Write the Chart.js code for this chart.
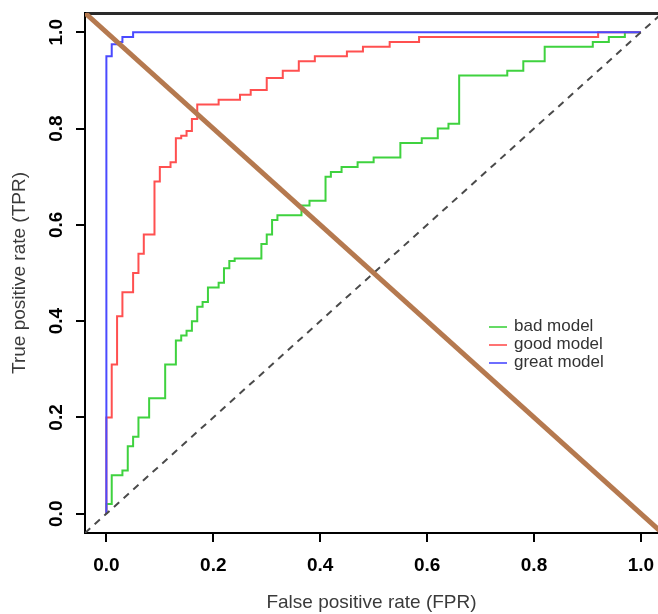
<!DOCTYPE html>
<html>
<head>
    <title>ROC curves</title>
    <script src="https://cdn.jsdelivr.net/npm/chart.js@4.4.1/dist/chart.umd.min.js"></script>
    <style>
        body { margin: 0; background: #fff; }
        .wrap { position: relative; width: 658px; height: 614px; }
        .legend {
            position: absolute;
            left: 489px;
            top: 317px;
            font-family: "Liberation Sans", Arial, sans-serif;
            font-size: 17px;
            color: #333;
        }
        .legend div { height: 18px; line-height: 18px; white-space: nowrap; }
        .legend span.sw {
            display: inline-block;
            width: 18px;
            height: 2px;
            vertical-align: middle;
            margin-right: 7px;
        }
    </style>
</head>
<body>
    <div class="wrap">
        <canvas id="roc" width="658" height="614"></canvas>
        <div class="legend" id="legend"></div>
    </div>

    <script>
        // ROC points (FPR, TPR)
        const badFpr  = [0, 0, 0.01, 0.03, 0.04, 0.05, 0.06, 0.08, 0.11, 0.13, 0.14, 0.15, 0.16, 0.17, 0.18, 0.19, 0.21, 0.22, 0.23, 0.24, 0.29, 0.30, 0.31, 0.32, 0.365, 0.38, 0.41, 0.42, 0.44, 0.47, 0.50, 0.55, 0.59, 0.62, 0.64, 0.66, 0.75, 0.78, 0.82, 0.91, 0.94, 0.97, 1.0];
        const badTpr  = [0, 0.02, 0.08, 0.09, 0.14, 0.16, 0.20, 0.24, 0.31, 0.36, 0.37, 0.38, 0.40, 0.43, 0.44, 0.47, 0.48, 0.51, 0.525, 0.53, 0.56, 0.58, 0.61, 0.62, 0.64, 0.65, 0.70, 0.71, 0.72, 0.73, 0.74, 0.77, 0.78, 0.80, 0.81, 0.91, 0.92, 0.94, 0.97, 0.98, 0.99, 1.0, 1.0];
        const goodFpr = [0, 0, 0.01, 0.02, 0.03, 0.05, 0.06, 0.07, 0.09, 0.10, 0.12, 0.13, 0.14, 0.15, 0.16, 0.17, 0.21, 0.25, 0.27, 0.30, 0.33, 0.36, 0.39, 0.45, 0.48, 0.53, 0.585, 0.92, 1.0];
        const goodTpr = [0, 0.20, 0.31, 0.41, 0.46, 0.50, 0.54, 0.58, 0.69, 0.72, 0.73, 0.78, 0.785, 0.795, 0.82, 0.85, 0.86, 0.87, 0.88, 0.905, 0.92, 0.94, 0.95, 0.96, 0.97, 0.98, 0.99, 1.0, 1.0];
        const greatFpr = [0, 0, 0.01, 0.02, 0.03, 0.05, 1.0];
        const greatTpr = [0, 0.95, 0.975, 0.98, 0.99, 1.0, 1.0];

        // reference lines: chance diagonal and the 1 - x line
        const diagX = [-0.04, 1.04];
        const diagY = [-0.04, 1.04];
        const antiX = [-0.04, 1.04];
        const antiY = [1.04, -0.04];

        const xTicks = [0, 0.2, 0.4, 0.6, 0.8, 1.0];
        const yTicks = [0, 0.2, 0.4, 0.6, 0.8, 1.0];
        const modelNames = ['bad model', 'good model', 'great model'];

        const xMin = -0.04, xMax = 1.032;
        const yMin = -0.04, yMax = 1.04;

        function pts(xs, ys) {
            return xs.map((x, i) => ({ x: x, y: ys[i] }));
        }

        const tickFont = { family: '"Liberation Sans", Arial, sans-serif', size: 19, weight: 'bold' };
        const titleFont = { family: '"Liberation Sans", Arial, sans-serif', size: 19 };

        const datasets = [
            { label: modelNames[0], data: pts(badFpr, badTpr), borderColor: '#3fd23f', order: 4 },
            { label: modelNames[1], data: pts(goodFpr, goodTpr), borderColor: '#ff5050', order: 3 },
            { label: modelNames[2], data: pts(greatFpr, greatTpr), borderColor: '#4a4aff', order: 2 }
        ].map(d => Object.assign(d, { showLine: true, stepped: 'before', borderWidth: 2, pointRadius: 0, fill: false }));

        datasets.push({
            label: 'chance', data: pts(diagX, diagY), showLine: true, borderColor: '#4a4a4a',
            borderWidth: 2, borderDash: [7, 6], pointRadius: 0, order: 1
        });
        datasets.push({
            label: 'anti', data: pts(antiX, antiY), showLine: true, borderColor: '#b5794f',
            borderWidth: 5, pointRadius: 0, order: 0
        });

        const ctx = document.getElementById('roc').getContext('2d');
        const chart = new Chart(ctx, {
            type: 'scatter',
            data: { datasets: datasets },
            options: {
                responsive: false,
                animation: false,
                layout: { padding: 0 },
                plugins: {
                    legend: { display: false },
                    tooltip: { enabled: false }
                },
                scales: {
                    x: {
                        type: 'linear',
                        position: 'bottom',
                        min: xMin, max: xMax,
                        afterBuildTicks: s => { s.ticks = xTicks.map(v => ({ value: v })); },
                        afterFit: s => { s.height = 81; s.paddingLeft = 0; s.paddingRight = 0; },
                        ticks: {
                            font: tickFont, color: '#000', padding: 12,
                            maxRotation: 0, autoSkip: false,
                            callback: v => v.toFixed(1)
                        },
                        grid: { drawOnChartArea: false, drawTicks: true, tickLength: 9, color: '#000', lineWidth: 2 },
                        border: { display: true, color: '#000', width: 2 },
                        title: {
                            display: true, text: 'False positive rate (FPR)',
                            font: titleFont, color: '#3a3a3a', padding: { top: 0, bottom: 0 }
                        }
                    },
                    xTop: {
                        type: 'linear',
                        position: 'top',
                        min: xMin, max: xMax,
                        afterFit: s => { s.height = 13; s.paddingLeft = 0; s.paddingRight = 0; },
                        ticks: { display: false },
                        grid: { display: false },
                        border: { display: true, color: '#2a2a2a', width: 3 }
                    },
                    y: {
                        type: 'linear',
                        position: 'left',
                        min: yMin, max: yMax,
                        afterBuildTicks: s => { s.ticks = yTicks.map(v => ({ value: v })); },
                        afterFit: s => { s.width = 85; s.paddingTop = 0; s.paddingBottom = 0; },
                        ticks: {
                            font: tickFont, color: '#000', padding: 6,
                            minRotation: 90, maxRotation: 90, crossAlign: 'center',
                            autoSkip: false,
                            callback: v => v.toFixed(1)
                        },
                        grid: { drawOnChartArea: false, drawTicks: true, tickLength: 9, color: '#000', lineWidth: 2 },
                        border: { display: true, color: '#000', width: 2 },
                        title: {
                            display: true, text: 'True positive rate (TPR)',
                            font: titleFont, color: '#3a3a3a', padding: { top: 8, bottom: 0 }
                        }
                    }
                }
            }
        });

        // legend inside the plot, built from the model datasets
        const legendEl = document.getElementById('legend');
        chart.data.datasets.slice(0, 3).forEach(d => {
            const row = document.createElement('div');
            const sw = document.createElement('span');
            sw.className = 'sw';
            sw.style.background = d.borderColor;
            sw.style.opacity = '0.8';
            row.appendChild(sw);
            row.appendChild(document.createTextNode(d.label));
            legendEl.appendChild(row);
        });
    </script>
</body>
</html>
